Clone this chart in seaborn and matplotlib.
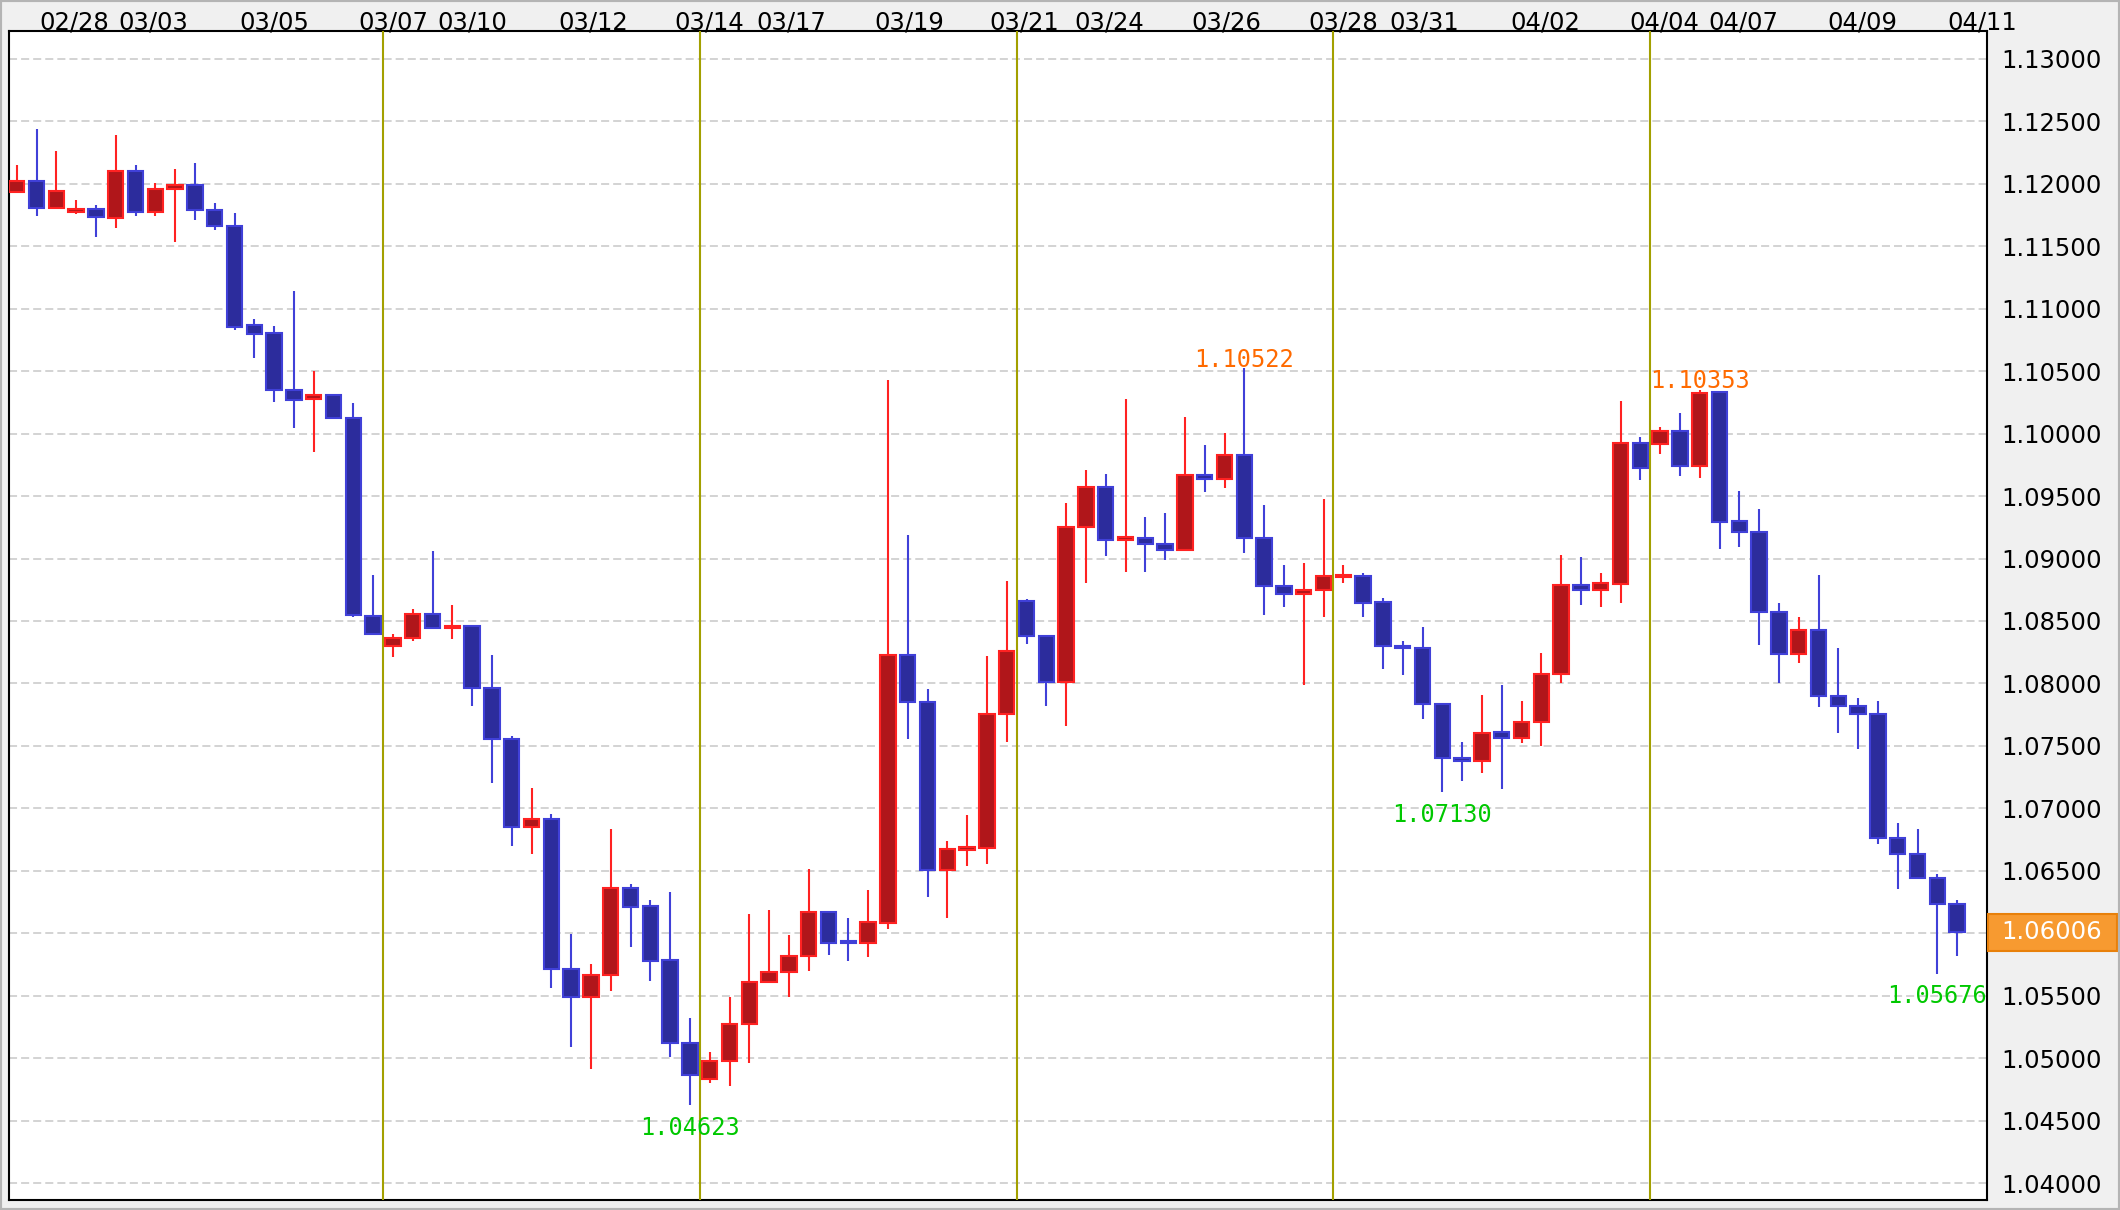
import matplotlib
matplotlib.use("Agg")
import numpy as np
import pandas as pd
import seaborn as sns
import matplotlib.pyplot as plt
from matplotlib.patches import Rectangle

# 8H candles, EUR/USD style quotes
open_ = [1.11938, 1.12021, 1.11808, 1.11775, 1.11799, 1.11728, 1.12104, 1.11778, 1.11956, 1.11988,
         1.11793, 1.11666, 1.10870, 1.10807, 1.10352, 1.10275, 1.10307, 1.10126, 1.08539, 1.08299,
         1.08362, 1.08555, 1.08440, 1.08461, 1.07961, 1.07559, 1.06854, 1.06917, 1.05717, 1.05492,
         1.05669, 1.06364, 1.06217, 1.05785, 1.05123, 1.04835, 1.04979, 1.05270, 1.05606, 1.05690,
         1.05814, 1.06169, 1.05940, 1.05925, 1.06085, 1.08225, 1.07853, 1.06508, 1.06670, 1.06685,
         1.07759, 1.08657, 1.08380, 1.08014, 1.09249, 1.09570, 1.09150, 1.09168, 1.09120, 1.09072,
         1.09667, 1.09635, 1.09826, 1.09167, 1.08782, 1.08715, 1.08745, 1.08850, 1.08862, 1.08654,
         1.08300, 1.08284, 1.07835, 1.07400, 1.07382, 1.07610, 1.07562, 1.07690, 1.08077, 1.08786,
         1.08749, 1.08797, 1.09922, 1.09917, 1.10019, 1.09738, 1.10330, 1.09297, 1.09216, 1.08575,
         1.08232, 1.08430, 1.07898, 1.07821, 1.07758, 1.06765, 1.06636, 1.06442, 1.06237]
high = [1.12154, 1.12441, 1.12266, 1.11867, 1.11831, 1.12393, 1.12154, 1.12009, 1.12121, 1.12169,
        1.11849, 1.11769, 1.10920, 1.10858, 1.11145, 1.10503, 1.10310, 1.10244, 1.08866, 1.08398,
        1.08594, 1.09059, 1.08626, 1.08461, 1.08224, 1.07580, 1.07165, 1.06953, 1.05992, 1.05752,
        1.06831, 1.06396, 1.06264, 1.06332, 1.05322, 1.05051, 1.05486, 1.06157, 1.06189, 1.05985,
        1.06512, 1.06170, 1.06125, 1.06348, 1.10428, 1.09191, 1.07957, 1.06740, 1.06949, 1.08216,
        1.08824, 1.08680, 1.08380, 1.09448, 1.09706, 1.09673, 1.10278, 1.09336, 1.09368, 1.10137,
        1.09911, 1.10008, 1.10522, 1.09430, 1.08948, 1.08964, 1.09475, 1.08948, 1.08884, 1.08688,
        1.08338, 1.08450, 1.07840, 1.07532, 1.07904, 1.07985, 1.07856, 1.08243, 1.09029, 1.09013,
        1.08885, 1.10265, 1.09976, 1.10053, 1.10168, 1.10353, 1.10345, 1.09540, 1.09396, 1.08642,
        1.08529, 1.08866, 1.08287, 1.07887, 1.07856, 1.06883, 1.06834, 1.06476, 1.06268]
low = [1.11930, 1.11740, 1.11805, 1.11757, 1.11577, 1.11645, 1.11740, 1.11740, 1.11532, 1.11710,
       1.11630, 1.10831, 1.10606, 1.10254, 1.10044, 1.09855, 1.10120, 1.08535, 1.08390, 1.08213,
       1.08343, 1.08440, 1.08354, 1.07823, 1.07201, 1.06701, 1.06638, 1.05563, 1.05087, 1.04909,
       1.05535, 1.05889, 1.05618, 1.05007, 1.04623, 1.04799, 1.04779, 1.04959, 1.05600, 1.05486,
       1.05698, 1.05825, 1.05777, 1.05809, 1.06037, 1.07558, 1.06288, 1.06122, 1.06537, 1.06553,
       1.07531, 1.08313, 1.07817, 1.07657, 1.08808, 1.09020, 1.08892, 1.08892, 1.08988, 1.09070,
       1.09532, 1.09564, 1.09047, 1.08549, 1.08613, 1.07990, 1.08533, 1.08806, 1.08533, 1.08116,
       1.08068, 1.07714, 1.07130, 1.07217, 1.07281, 1.07155, 1.07522, 1.07497, 1.08005, 1.08631,
       1.08615, 1.08647, 1.09626, 1.09834, 1.09658, 1.09642, 1.09080, 1.09096, 1.08310, 1.08005,
       1.08166, 1.07813, 1.07606, 1.07477, 1.06713, 1.06355, 1.06440, 1.05676, 1.05816]
close = [1.12021, 1.11808, 1.11941, 1.11799, 1.11731, 1.12104, 1.11778, 1.11956, 1.11988, 1.11793,
         1.11666, 1.10852, 1.10799, 1.10352, 1.10269, 1.10307, 1.10126, 1.08551, 1.08394, 1.08362,
         1.08555, 1.08441, 1.08460, 1.07961, 1.07555, 1.06854, 1.06917, 1.05717, 1.05492, 1.05669,
         1.06362, 1.06213, 1.05781, 1.05123, 1.04867, 1.04979, 1.05270, 1.05610, 1.05690, 1.05818,
         1.06169, 1.05925, 1.05920, 1.06089, 1.08225, 1.07849, 1.06504, 1.06675, 1.06690, 1.07759,
         1.08258, 1.08380, 1.08014, 1.09249, 1.09570, 1.09152, 1.09170, 1.09120, 1.09072, 1.09667,
         1.09635, 1.09828, 1.09165, 1.08777, 1.08715, 1.08745, 1.08862, 1.08870, 1.08648, 1.08298,
         1.08280, 1.07835, 1.07401, 1.07380, 1.07607, 1.07562, 1.07690, 1.08077, 1.08786, 1.08749,
         1.08802, 1.09922, 1.09725, 1.10019, 1.09738, 1.10324, 1.09291, 1.09214, 1.08572, 1.08232,
         1.08430, 1.07896, 1.07821, 1.07758, 1.06765, 1.06636, 1.06442, 1.06237, 1.06006]

date_labels = ["02/28", "03/03", "03/05", "03/07", "03/10", "03/12", "03/14", "03/17", "03/19", "03/21",
               "03/24", "03/26", "03/28", "03/31", "04/02", "04/04", "04/07", "04/09", "04/11"]
date_pos = [2.9, 6.9, 13.0, 19.0, 23.0, 29.1, 35.0, 39.1, 45.1, 50.9,
            55.2, 61.1, 67.0, 71.1, 77.2, 83.2, 87.2, 93.2, 99.25]
week_start = [19, 35, 51, 67, 83]

# marked swing highs / lows (candle index)
peak_idx = [62, 85]
trough_idx = [34, 72, 97]
last_price = close[-1]

df = pd.DataFrame({"open": open_, "high": high, "low": low, "close": close})
df["i"] = np.arange(len(df))
df["up"] = df["close"] >= df["open"]
df["edge"] = np.where(df["up"], "#ff2222", "#4040d8")
df["fill"] = np.where(df["up"], "#b0161a", "#2c2c9c")
df["bottom"] = df[["open", "close"]].min(axis=1)
df["body"] = (df["close"] - df["open"]).abs().clip(lower=0.00004)

sns.set_theme(style="white")
plt.rcParams["font.family"] = ["DejaVu Sans"]
plt.rcParams["lines.scale_dashes"] = False

W, H = 2120, 1210
fig = plt.figure(figsize=(W / 100, H / 100), dpi=100, facecolor="#f0f0f0")
ax = fig.add_axes([9 / W, 1 - 1200 / H, 1978 / W, 1169 / H])
ax.set_facecolor("white")

# wicks and bodies
ax.vlines(df["i"], df["low"], df["high"], colors=df["edge"], lw=1.5, zorder=2)
ax.bar(df["i"], df["body"], bottom=df["bottom"], width=0.78, color=df["fill"],
       edgecolor=df["edge"], linewidth=1.5, zorder=3)

# week separators
for w in week_start:
    ax.axvline(w - 0.5, color="#a3a000", lw=1.5, zorder=4)

ax.set_xlim(-0.39, 99.51)
ax.set_ylim(1.03864, 1.13224)

yt = np.round(np.arange(1.04, 1.13001, 0.005), 3)
ax.set_yticks(yt)
ax.set_yticklabels(["" if abs(v - 1.06) < 1e-9 else f"{v:.5f}" for v in yt])
ax.yaxis.tick_right()
ax.yaxis.grid(True, color="#c8c8c8", lw=1.1, linestyle=(0, (5.8, 2.9)))
ax.xaxis.grid(False)
ax.tick_params(axis="y", length=0, pad=10.5, labelsize=17.5, labelcolor="black")

ax.xaxis.tick_top()
ax.set_xticks(date_pos)
ax.set_xticklabels(date_labels)
ax.tick_params(axis="x", length=0, pad=-2.2, labelsize=17.5, labelcolor="black")

for s in ax.spines.values():
    s.set_color("black")
    s.set_linewidth(1.5)

# high / low annotations
mono = dict(family="DejaVu Sans Mono", fontsize=17)
for k in peak_idx:
    ax.annotate(f"{high[k]:.5f}", (k, high[k]), xytext=(0, 1), textcoords="offset points",
                ha="center", va="baseline", color="#ff6a00", zorder=6, annotation_clip=False, **mono)
for k in trough_idx:
    ax.annotate(f"{low[k]:.5f}", (k, low[k]), xytext=(0, -7.5), textcoords="offset points",
                ha="center", va="top", color="#00c800", zorder=6, annotation_clip=False, **mono)

# current price box on the axis
ytr = ax.get_yaxis_transform()
ax.add_patch(Rectangle((1.0005, last_price - 0.00147), 0.0652, 0.00294, transform=ytr,
                       facecolor="#f79a30", edgecolor="#e8800a", lw=1.5, clip_on=False, zorder=7))
ax.text(1.00743, last_price, f"{last_price:.5f}", transform=ytr, color="white",
        fontsize=17.5, ha="left", va="center", zorder=8, clip_on=False)

# outer frame
fig.patches.append(Rectangle((0, 0), 1, 1, transform=fig.transFigure, fill=False,
                             edgecolor="#b4b4b4", lw=3))

fig.savefig("out.png", dpi=100, facecolor=fig.get_facecolor())
